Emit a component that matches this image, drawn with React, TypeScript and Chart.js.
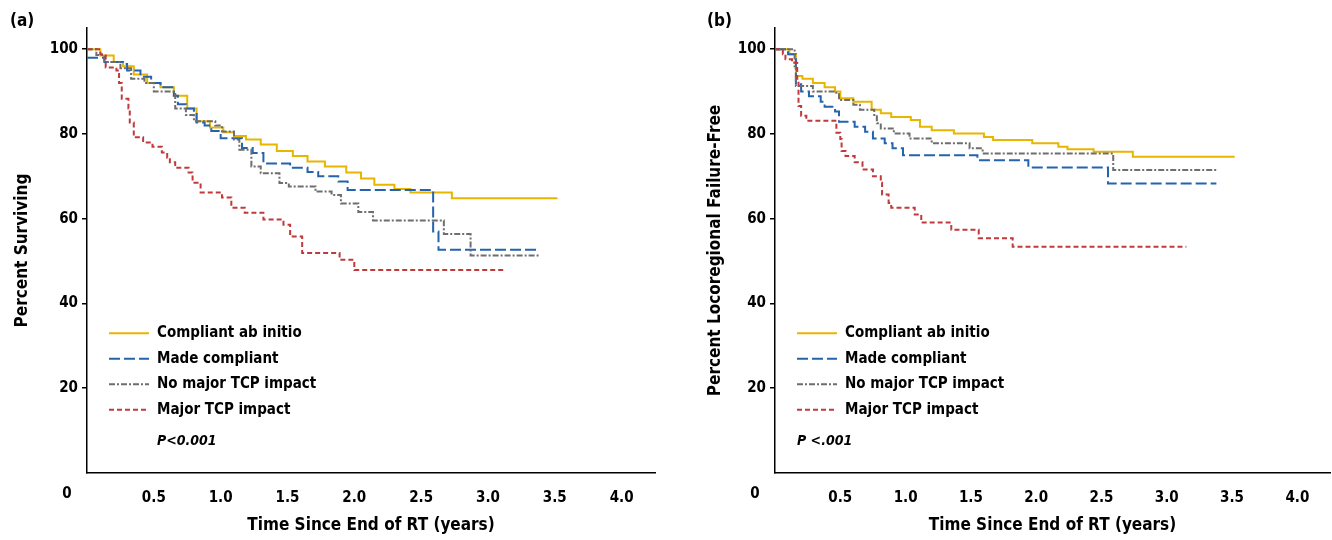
import { useEffect, useRef } from "react";
import Chart from "chart.js/auto";

// Kaplan-Meier steps: [time (years), percent]
const aCompliant = [[0,100],[0.1,98.5],[0.2,97],[0.27,96],[0.35,94],[0.45,92],[0.55,91],[0.65,89],[0.75,86],[0.82,83],[0.92,81.5],[1.02,80.4],[1.1,79.5],[1.19,78.7],[1.3,77.5],[1.42,76],[1.54,74.8],[1.65,73.5],[1.78,72.3],[1.94,70.9],[2.05,69.5],[2.15,68],[2.3,67],[2.42,66.2],[2.73,64.8],[3.52,64.8]];
const aMade = [[0,98],[0.13,97],[0.27,96.5],[0.3,95],[0.4,93.5],[0.48,92],[0.55,91],[0.65,89],[0.68,87],[0.74,86],[0.8,85],[0.82,82.7],[0.88,82],[0.93,80.7],[1.0,79],[1.16,76.7],[1.24,75.5],[1.32,73],[1.52,72],[1.65,71],[1.73,70],[1.88,68.8],[1.95,66.8],[2.55,66.8],[2.59,57],[2.63,52.7],[3.37,52.7]];
const aNoMajor = [[0,100],[0.07,98.6],[0.13,97],[0.25,95.5],[0.33,93],[0.43,92],[0.5,90],[0.66,86],[0.74,84.5],[0.8,83],[0.96,82],[1.01,80.6],[1.1,78.7],[1.14,76.3],[1.23,72.3],[1.3,70.7],[1.44,68.4],[1.51,67.6],[1.71,66.4],[1.83,65.6],[1.9,63.6],[2.03,61.6],[2.14,59.6],[2.67,56.4],[2.87,51.3],[3.38,51.3]];
const aMajor = [[0,100],[0.1,98.8],[0.14,95.7],[0.22,95],[0.24,92],[0.26,88.3],[0.31,86],[0.32,82.7],[0.35,79.2],[0.42,78],[0.49,77],[0.56,75.6],[0.6,74.4],[0.62,73.3],[0.66,72],[0.76,70.9],[0.79,68.5],[0.85,66.2],[1.01,65],[1.08,62.6],[1.18,61.4],[1.32,59.8],[1.47,58.6],[1.52,55.8],[1.61,51.9],[1.89,50.3],[2.0,47.9],[3.12,47.9]];

const bCompliant = [[0,100],[0.11,98.8],[0.16,93.7],[0.21,93],[0.29,92],[0.38,91],[0.46,90],[0.5,88.4],[0.6,87.6],[0.74,85.7],[0.81,84.9],[0.89,84],[1.04,83.3],[1.11,81.7],[1.2,80.9],[1.37,80.1],[1.6,79.3],[1.67,78.6],[1.97,77.8],[2.17,77],[2.24,76.4],[2.44,75.8],[2.74,74.6],[3.52,74.6]];
const bMade = [[0,100],[0.1,98.8],[0.16,91.7],[0.2,90],[0.26,88.9],[0.35,87.6],[0.38,86.4],[0.46,85.3],[0.49,82.9],[0.61,81.7],[0.69,80.5],[0.75,78.9],[0.84,77.8],[0.9,76.6],[0.98,75],[1.55,73.8],[1.94,72.1],[2.55,68.3],[3.38,68.3]];
const bNoMajor = [[0,100],[0.13,100],[0.15,96],[0.16,91.3],[0.29,90],[0.46,89.7],[0.49,88],[0.6,86.9],[0.65,85.7],[0.76,84.5],[0.78,82.5],[0.81,81.3],[0.91,80.1],[1.03,78.9],[1.2,77.8],[1.49,76.6],[1.59,75.4],[2.59,71.5],[3.38,71.5]];
const bMajor = [[0,100],[0.06,98.8],[0.08,97.6],[0.13,96.8],[0.17,93],[0.18,86.6],[0.2,84.3],[0.24,83.1],[0.47,80.3],[0.5,78.8],[0.51,76],[0.54,74.8],[0.61,73.3],[0.67,71.6],[0.75,70],[0.81,68.5],[0.82,65.7],[0.87,63.7],[0.89,62.6],[1.07,61],[1.12,59.1],[1.35,57.4],[1.56,55.4],[1.82,53.4],[3.15,53.4]];

const xTicks = [0, 0.5, 1, 1.5, 2, 2.5, 3, 3.5, 4];
const yTicks = [20, 40, 60, 80, 100];
const legendLabels = ["Compliant ab initio", "Made compliant", "No major TCP impact", "Major TCP impact"];

const COLORS = ["#E8B500", "#2563AE", "#6E6E6E", "#C0393B"];
const DASHES = [[], [11, 4], [6, 2, 2, 2], [5, 3]];
const FONT = "'Liberation Sans Narrow', 'DejaVu Sans Condensed', Arial, sans-serif";

function makeChart(
  canvas: HTMLCanvasElement,
  series: number[][][],
  yTitle: string,
  pText: string,
  yWidth: number,
  padRight: number,
  titlePad: number
) {
  const overlay = {
    id: "overlay",
    afterDraw(chart: any) {
      const { ctx, chartArea, scales } = chart;
      ctx.save();
      ctx.fillStyle = "#000";
      ctx.font = `bold 15px ${FONT}`;
      ctx.textAlign = "center";
      ctx.textBaseline = "top";
      ctx.fillText("0", chartArea.left - 20, chartArea.bottom + 14);
      const lx = chartArea.left + 22;
      legendLabels.forEach((lab, i) => {
        const y = scales.y.getPixelForValue(33) + i * 25.5;
        ctx.strokeStyle = COLORS[i];
        ctx.lineWidth = 2;
        ctx.setLineDash(DASHES[i]);
        ctx.beginPath();
        ctx.moveTo(lx, y);
        ctx.lineTo(lx + 40, y);
        ctx.stroke();
        ctx.setLineDash([]);
        ctx.fillStyle = "#000";
        ctx.textAlign = "left";
        ctx.textBaseline = "middle";
        ctx.font = `bold 15px ${FONT}`;
        ctx.fillText(lab, lx + 48, y);
      });
      ctx.font = `italic bold 14px ${FONT}`;
      ctx.fillText(pText, lx + (pText.startsWith("P <") ? 0 : 48), scales.y.getPixelForValue(7.5));
      ctx.restore();
    },
  };
  return new Chart(canvas, {
    type: "line",
    data: {
      datasets: series.map((s, i) => ({
        label: legendLabels[i],
        data: s.map(([x, y]) => ({ x, y })),
        borderColor: COLORS[i],
        borderWidth: 2,
        borderDash: DASHES[i],
        stepped: true,
        pointRadius: 0,
        fill: false,
        order: 3 - i,
      })),
    },
    options: {
      animation: false,
      responsive: false,
      layout: { padding: { top: 28, right: padRight, left: 0, bottom: 0 } },
      plugins: { legend: { display: false }, tooltip: { enabled: false } },
      scales: {
        x: {
          type: "linear",
          min: 0,
          max: 4.25,
          afterBuildTicks: (s: any) => {
            s.ticks = xTicks.map((v) => ({ value: v }));
          },
          afterFit: (s: any) => {
            s.height = 67;
          },
          ticks: {
            color: "#000",
            font: { family: FONT, weight: "bold", size: 15 },
            padding: 8,
            callback: (v: any) => (v === 0 ? "" : Number(v).toFixed(1)),
          },
          grid: { display: false },
          border: { color: "#000", width: 1.5 },
          title: {
            display: true,
            text: "Time Since End of RT (years)",
            color: "#000",
            font: { family: FONT, weight: "bold", size: 17 },
            padding: { top: 6 },
          },
        },
        y: {
          min: 0,
          max: 105,
          afterBuildTicks: (s: any) => {
            s.ticks = yTicks.map((v) => ({ value: v }));
          },
          afterFit: (s: any) => {
            s.width = yWidth;
          },
          ticks: {
            color: "#000",
            font: { family: FONT, weight: "bold", size: 15 },
            padding: 4,
          },
          grid: { drawOnChartArea: false, drawTicks: true, tickLength: 5, color: "#000", lineWidth: 1.5 },
          border: { color: "#000", width: 1.5 },
          title: {
            display: true,
            text: yTitle,
            color: "#000",
            font: { family: FONT, weight: "bold", size: 17 },
            padding: { top: titlePad, bottom: 0 },
          },
        },
      },
    },
    plugins: [overlay],
  });
}

export default function App() {
  const aRef = useRef<HTMLCanvasElement | null>(null);
  const bRef = useRef<HTMLCanvasElement | null>(null);

  useEffect(() => {
    document.body.style.margin = "0";
    const charts: Chart[] = [];
    if (aRef.current)
      charts.push(makeChart(aRef.current, [aCompliant, aMade, aNoMajor, aMajor], "Percent Surviving", "P<0.001", 87, 11, 12));
    if (bRef.current)
      charts.push(makeChart(bRef.current, [bCompliant, bMade, bNoMajor, bMajor], "Percent Locoregional Failure-Free", "P <.001", 109, 2, 39));
    return () => charts.forEach((c) => c.destroy());
  }, []);

  const label = { position: "absolute" as const, top: 10, fontFamily: FONT, fontWeight: "bold", fontSize: 17 };
  return (
    <div style={{ position: "relative", width: 1332, height: 540, background: "#fff" }}>
      <canvas ref={aRef} width={666} height={540} style={{ position: "absolute", left: 0, top: 0 }} />
      <canvas ref={bRef} width={666} height={540} style={{ position: "absolute", left: 666, top: 0 }} />
      <div style={{ ...label, left: 10 }}>(a)</div>
      <div style={{ ...label, left: 707 }}>(b)</div>
    </div>
  );
}
